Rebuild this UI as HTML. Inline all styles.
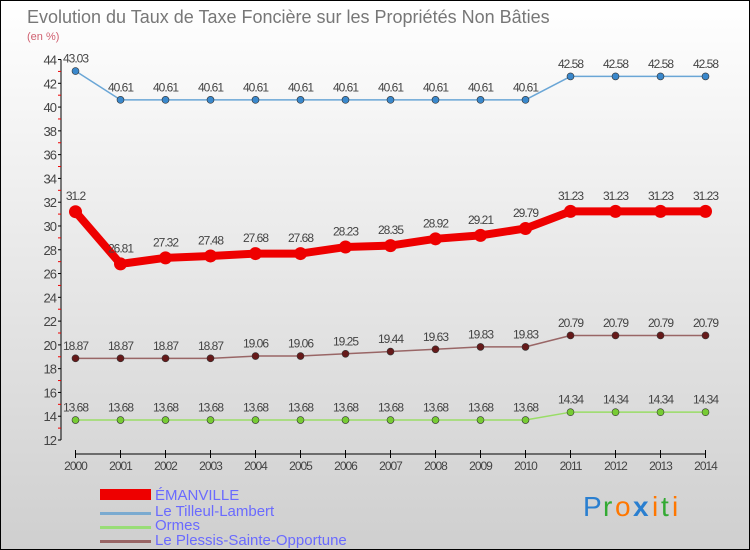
<!DOCTYPE html>
<html><head><meta charset="utf-8"><style>
body{margin:0;width:750px;height:550px;overflow:hidden;font-family:"Liberation Sans",sans-serif}
#wrap{position:absolute;left:0;top:0;width:748px;height:548px;border:1px solid #000;background:linear-gradient(#ffffff,#cfcfcf)}
</style></head><body>
<div id="wrap">
<svg id="chart" width="750" height="550" style="position:absolute;left:-1px;top:-1px">
<text x="27" y="23" font-size="18" fill="#777">Evolution du Taux de Taxe Foncière sur les Propriétés Non Bâties</text>
<text x="27" y="40" font-size="11" fill="#d06070">(en %)</text>
<g id="axes"></g><g id="series"></g>
<g>
<rect x="100" y="489" width="51" height="11" fill="#e00"/>
<text x="155" y="500" font-size="15" fill="#6a6aff">ÉMANVILLE</text>
<rect x="100" y="512" width="51" height="3" fill="#7aaad0"/>
<text x="155" y="516" font-size="15" fill="#6a6aff">Le Tilleul-Lambert</text>
<rect x="100" y="526" width="51" height="3" fill="#99dd77"/>
<text x="155" y="530" font-size="15" fill="#6a6aff">Ormes</text>
<rect x="100" y="540" width="51" height="3" fill="#996666"/>
<text x="155" y="545" font-size="15" fill="#6a6aff">Le Plessis-Sainte-Opportune</text>
</g>
<g font-size="28" font-family="Liberation Sans,sans-serif">
<text x="583" y="516" fill="#2a7fd0">P</text><text x="603" y="516" fill="#33aa33">r</text><text x="615" y="516" fill="#ff7700">o</text><text x="633" y="516" fill="#2a7fd0" font-weight="bold">x</text><text x="652" y="516" fill="#ff7700">i</text><text x="661" y="516" fill="#33aa33">t</text><text x="672" y="516" fill="#ff7700">i</text>
</g>
</svg></div>
<script>
const years=[2000,2001,2002,2003,2004,2005,2006,2007,2008,2009,2010,2011,2012,2013,2014];
const emanville=[31.2,26.81,27.32,27.48,27.68,27.68,28.23,28.35,28.92,29.21,29.79,31.23,31.23,31.23,31.23];
const tilleul=[43.03,40.61,40.61,40.61,40.61,40.61,40.61,40.61,40.61,40.61,40.61,42.58,42.58,42.58,42.58];
const ormes=[13.68,13.68,13.68,13.68,13.68,13.68,13.68,13.68,13.68,13.68,13.68,14.34,14.34,14.34,14.34];
const plessis=[18.87,18.87,18.87,18.87,19.06,19.06,19.25,19.44,19.63,19.83,19.83,20.79,20.79,20.79,20.79];
const yTicks=[12,14,16,18,20,22,24,26,28,30,32,34,36,38,40,42,44];
const NS='http://www.w3.org/2000/svg';
const X=i=>75.5+i*45;
const Y=v=>440-(v-12)*11.89;
function mk(p,t,a){const e=document.createElementNS(NS,t);for(const k in a)e.setAttribute(k,a[k]);p.appendChild(e);return e;}
const ax=document.getElementById('axes');
const yl=mk(ax,'line',{x1:61,x2:61,y1:Y(44),y2:Y(12),stroke:'#000'});


yTicks.forEach(v=>{
 mk(ax,'line',{x1:58,x2:61,y1:Y(v),y2:Y(v),stroke:'#000'});
 mk(ax,'line',{x1:58,x2:61,y1:Y(v+1),y2:Y(v+1),stroke:v<44?'#e00':'none'});
 const t=mk(ax,'text',{x:56,y:Y(v)+5,'font-size':13,fill:'#444','text-anchor':'end','letter-spacing':'-1'});
 t.textContent=v;
 
 
});
const xl=mk(ax,'line',{x1:X(0),x2:X(14),y1:454,y2:454,stroke:'#000'});


years.forEach((y,i)=>{
 mk(ax,'line',{x1:X(i),x2:X(i),y1:450,y2:458,stroke:'#000'});
 const t=mk(ax,'text',{x:X(i),y:470,'font-size':12,fill:'#444','text-anchor':'middle','letter-spacing':'-1'});
 t.textContent=y;
 
 
});
const sg=document.getElementById('series');
function series(vals,name,color,dot,w,r){
 const g=mk(sg,'g',{});
 
 
 mk(g,'polyline',{points:vals.map((v,i)=>X(i)+','+Y(v)).join(' '),fill:'none',stroke:color,'stroke-width':w,'stroke-linejoin':'round'});
 vals.forEach((v,i)=>{
  const c=mk(g,'circle',{cx:X(i),cy:Y(v),r:r,fill:dot,stroke:'#333','stroke-width':r>5?0:0.6});
  
  
  const t=mk(g,'text',{x:X(i),y:Y(v)-r-5,'font-size':12,fill:'#444','text-anchor':'middle','letter-spacing':'-1'});
  t.textContent=v;
  
  
 });
}
series(tilleul,'series-tilleul-lambert','#6aa6d6','#3a88cc',1.5,3.5);
series(plessis,'series-plessis-sainte-opportune','#996666','#661a1a',1.5,3.5);
series(ormes,'series-ormes','#99dd66','#77cc33',1.5,3.5);
series(emanville,'series-emanville','#ee0000','#ee0000',8,6.5);
</script>
</body></html>
